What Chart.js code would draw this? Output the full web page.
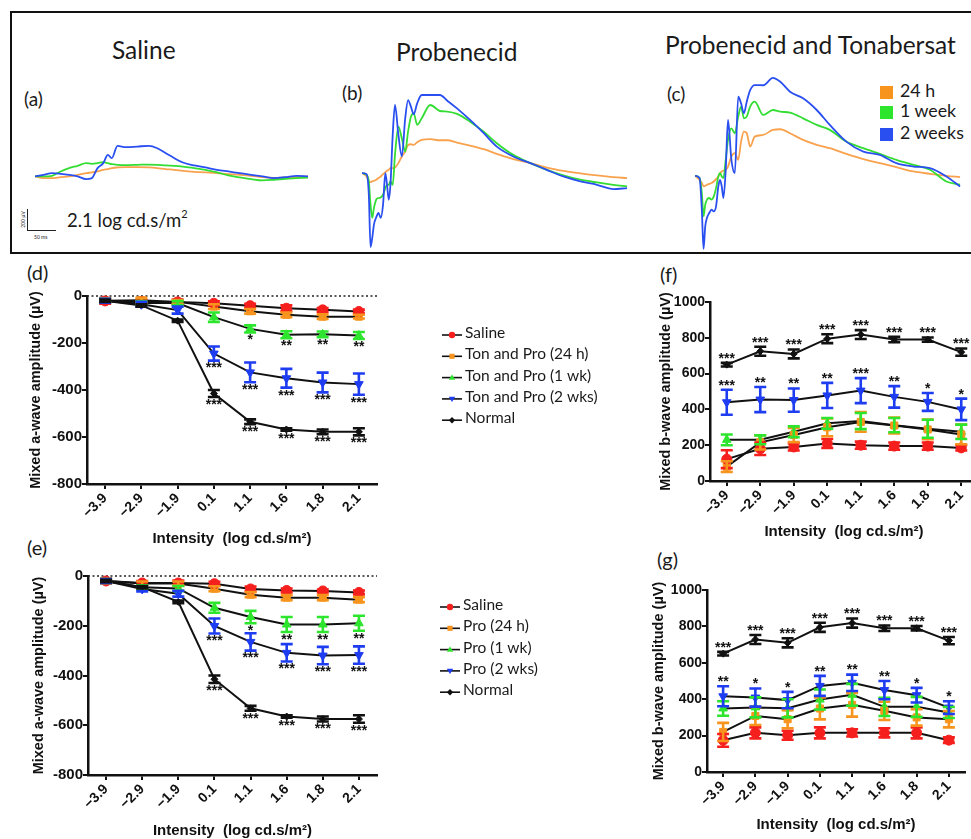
<!DOCTYPE html>
<html lang="en">
<head>
<meta charset="UTF-8">
<title>ERG responses</title>
<script src="https://cdn.jsdelivr.net/npm/chart.js@4.4.1/dist/chart.umd.min.js"></script>
<style>
    body { margin: 0; width: 971px; height: 839px; overflow: hidden; background: #fff; position: relative; font-family: Lato, "Open Sans", sans-serif; color: #1a1a1a; }
    .txt { position: absolute; white-space: nowrap; line-height: 1; }
    .title { font-size: 24.5px; }
    .letter { font-size: 19px; }
    .lg { font-size: 17.8px; }
    .sq { position: absolute; width: 13px; height: 13px; }
    .frame { position: absolute; left: 10px; top: 11px; width: 990px; height: 239px; border: 2px solid #111; }
    .plot { position: absolute; }
    sup { font-size: 11px; position: relative; top: -2px; }
</style>
</head>
<body>
<div class="frame"></div>
<div class="txt title" style="left:112px;top:38px">Saline</div>
<div class="txt title" style="left:396px;top:40px">Probenecid</div>
<div class="txt title" style="left:665px;top:33px">Probenecid and Tonabersat</div>
<div class="txt letter" style="left:24px;top:89px">(a)</div>
<div class="txt letter" style="left:342px;top:83px">(b)</div>
<div class="txt letter" style="left:667px;top:84px">(c)</div>

<div class="sq" style="left:880px;top:86px;background:#F7941D"></div>
<div class="txt lg" style="left:900px;top:82px">24 h</div>
<div class="sq" style="left:880px;top:106px;background:#2EE52E"></div>
<div class="txt lg" style="left:900px;top:102px">1 week</div>
<div class="sq" style="left:880px;top:128px;background:#2A4FF0"></div>
<div class="txt lg" style="left:900px;top:124px">2 weeks</div>

<div style="position:absolute;left:27px;top:209px;width:28px;height:21px;border-left:1.5px solid #222;border-bottom:1.5px solid #222"></div>
<div class="txt" style="left:15px;top:217px;font-size:5px;transform:rotate(-90deg)">200 µV</div>
<div class="txt" style="left:34px;top:235px;font-size:5px">50 ms</div>
<div class="txt" style="left:67px;top:210px;font-size:18.5px">2.1 log cd.s/m<sup>2</sup></div>

<div class="plot" style="left:35px;top:60px;width:273px;height:200px"><canvas id="ergA"></canvas></div>
<div class="plot" style="left:362px;top:57px;width:273px;height:200px"><canvas id="ergB"></canvas></div>
<div class="plot" style="left:695px;top:60px;width:273px;height:200px"><canvas id="ergC"></canvas></div>

<div class="txt letter" style="left:27px;top:262px;font-size:20px">(d)</div>
<div class="txt letter" style="left:27px;top:537px;font-size:20px">(e)</div>
<div class="txt letter" style="left:660px;top:264px;font-size:20px">(f)</div>
<div class="txt letter" style="left:657px;top:549px;font-size:20px">(g)</div>

<div class="plot" style="left:0;top:260px;width:640px;height:288px"><canvas id="chartD"></canvas></div>
<div class="plot" style="left:0;top:560px;width:640px;height:280px"><canvas id="chartE"></canvas></div>
<div class="plot" style="left:640px;top:260px;width:345px;height:281px"><canvas id="chartF"></canvas></div>
<div class="plot" style="left:640px;top:550px;width:345px;height:284px"><canvas id="chartG"></canvas></div>

<script>
    // ERG traces at 2.1 log cd.s/m2, time in ms, amplitude in µV
    const ergTimeA = [0, 15, 30, 45, 60, 75, 90, 100, 110, 120, 128, 135, 145, 160, 180, 200, 215, 230, 245, 260, 280, 300, 320, 340, 360, 380, 400, 420, 440, 460, 480]
    const salineBlue = [-6, 9, 25, 19, 9, -6, -32, -22, 73, 120, 199, 167, 284, 272, 278, 284, 262, 215, 167, 126, 98, 79, 57, 41, 25, 9, -6, -22, -13, 0, -6]
    const salineGreen = [-6, -6, 0, 41, 73, 95, 120, 114, 120, 129, 120, 110, 104, 101, 104, 107, 104, 98, 95, 88, 73, 57, 32, 3, -16, -32, -44, -38, -28, -22, -16]
    const salineOrange = [-6, -22, -22, -13, -6, 9, 25, 32, 41, 57, 63, 73, 79, 82, 82, 79, 73, 63, 57, 47, 38, 32, 25, 16, 9, 0, -13, -19, -16, -13, -6]

    const ergTimeBC = [0, 8, 12, 15, 18, 21, 25, 29, 33, 37, 41, 44, 47, 50, 54, 58, 64, 70, 76, 81, 86, 91, 97, 105, 120, 137, 150, 167, 190, 214, 237, 266, 296, 325, 354, 384, 413, 442, 466]
    const proBlue = [-3, -13, -208, -705, -619, -492, -423, -382, -429, -303, -3, -114, -256, -114, 360, 644, 360, 155, 518, 691, 628, 556, 660, 739, 739, 739, 685, 612, 502, 376, 249, 155, 92, 28, -35, -82, -114, -155, -145]
    const proGreen = [-3, -19, -82, -303, -429, -335, -256, -240, -234, -208, -145, -114, -114, -82, -114, 170, 439, 328, 202, 391, 533, 565, 455, 518, 644, 587, 581, 559, 486, 391, 281, 170, 92, 28, -25, -66, -92, -114, -129]
    const proOrange = [-3, -35, -82, -88, -82, -76, -66, -50, -35, -13, 6, 19, 28, 44, 44, 50, 92, 155, 202, 265, 271, 265, 290, 312, 319, 309, 309, 287, 259, 224, 180, 129, 92, 50, 19, -6, -25, -41, -50]
    const tonBlue = [0, -22, -322, -695, -480, -401, -354, -322, -338, -290, -101, -38, -101, -211, 57, 530, 152, 25, 751, 688, 593, 704, 814, 862, 860, 930, 893, 799, 736, 625, 483, 325, 230, 199, 120, 88, 73, -6, -101]
    const tonGreen = [0, -22, -164, -385, -275, -227, -211, -227, -196, -117, -6, 25, -6, -22, 152, 341, 451, 404, 562, 657, 546, 562, 657, 704, 578, 625, 609, 600, 546, 483, 436, 325, 262, 208, 152, 104, 57, -54, -85]
    const tonOrange = [0, -38, -69, -101, -95, -85, -76, -69, -54, -32, -6, 25, 41, 50, 57, 88, 183, 215, 152, 325, 420, 404, 278, 372, 388, 436, 442, 404, 341, 294, 262, 208, 158, 120, 82, 41, 19, 0, -13]

    // intensity-response curves (mean and error, µV)
    const intensityLabels = ['−3.9', '−2.9', '−1.9', '0.1', '1.1', '1.6', '1.8', '2.1']

    const dSaline = [-21, -24, -25, -31, -41, -52, -59, -66]
    const dSalineErr = [12, 8, 10, 8, 8, 12, 8, 8]
    const dTon24 = [-20, -18, -25, -45, -65, -80, -88, -88]
    const dTon24Err = [8, 10, 8, 10, 10, 10, 10, 8]
    const dTon1wk = [-20, -30, -30, -90, -140, -165, -163, -168]
    const dTon1wkErr = [8, 8, 8, 20, 15, 15, 12, 15]
    const dTon2wk = [-20, -35, -60, -245, -325, -350, -368, -375]
    const dTon2wkErr = [8, 10, 15, 30, 42, 40, 42, 45]
    const dNormal = [-20, -40, -105, -415, -535, -568, -578, -578]
    const dNormalErr = [5, 5, 5, 15, 10, 5, 10, 15]

    const eSaline = [-20, -28, -28, -31, -52, -58, -60, -66]
    const eSalineErr = [10, 8, 10, 8, 10, 8, 6, 8]
    const ePro24 = [-20, -30, -30, -51, -75, -87, -87, -95]
    const ePro24Err = [8, 8, 8, 10, 10, 10, 10, 10]
    const ePro1wk = [-20, -45, -50, -128, -165, -195, -195, -190]
    const ePro1wkErr = [8, 8, 10, 20, 25, 30, 30, 30]
    const ePro2wk = [-20, -52, -71, -201, -265, -309, -320, -318]
    const ePro2wkErr = [8, 10, 12, 30, 35, 35, 35, 35]
    const eNormal = [-20, -45, -104, -415, -532, -565, -575, -575]
    const eNormalErr = [5, 5, 5, 15, 10, 5, 10, 15]

    const fNormal = [650, 725, 710, 795, 818, 790, 790, 720]
    const fNormalErr = [10, 25, 25, 25, 25, 15, 12, 20]
    const fTon2wk = [440, 455, 452, 478, 505, 470, 442, 400]
    const fTon2wkErr = [70, 70, 65, 70, 70, 60, 50, 60]
    const fTon1wk = [230, 230, 275, 322, 335, 312, 292, 275]
    const fTon1wkErr = [30, 25, 30, 30, 45, 40, 50, 40]
    const fTon24 = [80, 216, 257, 300, 330, 310, 288, 260]
    const fTon24Err = [30, 40, 40, 50, 55, 45, 55, 55]
    const fSaline = [122, 180, 190, 210, 200, 195, 195, 185]
    const fSalineErr = [50, 35, 20, 25, 20, 20, 20, 15]

    const gNormal = [650, 728, 710, 795, 818, 790, 790, 722]
    const gNormalErr = [10, 25, 25, 25, 25, 15, 12, 20]
    const gPro2wk = [416, 409, 395, 473, 490, 450, 422, 354]
    const gPro2wkErr = [55, 50, 45, 55, 45, 50, 40, 35]
    const gPro1wk = [349, 355, 350, 398, 424, 358, 358, 327]
    const gPro1wkErr = [40, 55, 50, 55, 60, 50, 55, 30]
    const gPro24 = [220, 308, 290, 349, 369, 336, 300, 290]
    const gPro24Err = [50, 50, 50, 60, 65, 50, 45, 45]
    const gSaline = [174, 215, 202, 215, 215, 215, 215, 175]
    const gSalineErr = [35, 30, 25, 30, 20, 25, 30, 15]

    // significance marks
    const starsAwave1wk = ['', '', '', '', '*', '**', '**', '**']
    const starsAwave2wk = ['', '', '', '***', '***', '***', '***', '***']
    const starsAwaveNormal = ['', '', '', '***', '***', '***', '***', '***']
    const starsNormalB = ['***', '***', '***', '***', '***', '***', '***', '***']
    const starsF2wk = ['***', '**', '**', '**', '***', '**', '*', '*']
    const starsG2wk = ['**', '*', '*', '**', '**', '**', '*', '*']

    const RED = '#F5201E', ORANGE = '#F7941D', GREEN = '#2EE52E', BLUE = '#1E3CF0', BLACK = '#111'

    Chart.defaults.font.family = '"Liberation Sans", Arial, sans-serif'
    Chart.defaults.color = BLACK

    function ergChart(id, times, traces) {
        new Chart(document.getElementById(id), {
            type: 'scatter',
            data: {
                datasets: traces.map(tr => ({
                    data: times.map((t, i) => ({x: t, y: tr.values[i]})),
                    showLine: true,
                    borderColor: tr.color,
                    borderWidth: 1.8,
                    pointRadius: 0,
                    cubicInterpolationMode: 'monotone'
                }))
            },
            options: {
                responsive: true, maintainAspectRatio: false, animation: false, events: [],
                layout: {padding: 0},
                plugins: {legend: {display: false}, tooltip: {enabled: false}},
                scales: {
                    x: {type: 'linear', display: false, min: 0, max: 480},
                    y: {display: false, min: -800, max: 1100}
                }
            }
        })
    }

    ergChart('ergA', ergTimeA, [
        {values: salineBlue, color: '#2A4FF0'},
        {values: salineGreen, color: '#33DD33'},
        {values: salineOrange, color: '#F9A24E'}
    ])
    ergChart('ergB', ergTimeBC, [
        {values: proBlue, color: '#2A4FF0'},
        {values: proGreen, color: '#33DD33'},
        {values: proOrange, color: '#F9A24E'}
    ])
    ergChart('ergC', ergTimeBC, [
        {values: tonBlue, color: '#2A4FF0'},
        {values: tonGreen, color: '#33DD33'},
        {values: tonOrange, color: '#F9A24E'}
    ])

    function drawMarker(ctx, style, rot, x, y, r, color) {
        ctx.save()
        ctx.fillStyle = color
        ctx.translate(x, y)
        ctx.rotate(rot * Math.PI / 180)
        ctx.beginPath()
        if (style === 'circle') ctx.arc(0, 0, r, 0, 2 * Math.PI)
        else if (style === 'rect') ctx.rect(-r * 0.8, -r * 0.8, r * 1.6, r * 1.6)
        else if (style === 'triangle') {
            ctx.moveTo(0, -r); ctx.lineTo(r, r * 0.7); ctx.lineTo(-r, r * 0.7); ctx.closePath()
        } else {
            ctx.moveTo(0, -r); ctx.lineTo(r, 0); ctx.lineTo(0, r); ctx.lineTo(-r, 0); ctx.closePath()
        }
        ctx.fill()
        ctx.restore()
    }

    const zeroLine = {
        id: 'zeroLine',
        beforeDatasetsDraw(chart, args, opts) {
            if (!opts.show) return
            const {ctx, chartArea} = chart
            const y = chart.scales.y.getPixelForValue(0)
            ctx.save()
            ctx.setLineDash([2, 2.5])
            ctx.strokeStyle = '#222'
            ctx.lineWidth = 1.5
            ctx.beginPath()
            ctx.moveTo(chartArea.left, y)
            ctx.lineTo(chartArea.right, y)
            ctx.stroke()
            ctx.restore()
        }
    }

    const errorBars = {
        id: 'errorBars',
        afterDatasetsDraw(chart) {
            const ctx = chart.ctx, ys = chart.scales.y
            chart.data.datasets.forEach((ds, i) => {
                const meta = chart.getDatasetMeta(i)
                ctx.save()
                ctx.strokeStyle = ds.errColor
                ctx.lineWidth = 2.6
                meta.data.forEach((pt, j) => {
                    const top = ys.getPixelForValue(ds.data[j] + ds.err[j])
                    const bot = ys.getPixelForValue(ds.data[j] - ds.err[j])
                    ctx.beginPath()
                    ctx.moveTo(pt.x, top); ctx.lineTo(pt.x, bot)
                    ctx.moveTo(pt.x - 6, top); ctx.lineTo(pt.x + 6, top)
                    ctx.moveTo(pt.x - 6, bot); ctx.lineTo(pt.x + 6, bot)
                    ctx.stroke()
                })
                ctx.restore()
                if (!ds.stars) return
                ctx.save()
                ctx.fillStyle = BLACK
                ctx.font = 'bold 14px "Liberation Sans", Arial'
                ctx.textAlign = 'center'
                ctx.textBaseline = 'top'
                meta.data.forEach((pt, j) => {
                    if (!ds.stars[j]) return
                    let y
                    if (ds.starSide === 'below') y = ys.getPixelForValue(ds.data[j] - ds.err[j]) + 1
                    else y = ys.getPixelForValue(ds.data[j] + ds.err[j]) - 11
                    ctx.fillText(ds.stars[j], pt.x, y)
                })
                ctx.restore()
            })
        }
    }

    const sideLegend = {
        id: 'sideLegend',
        afterDraw(chart, args, opts) {
            if (!opts.show) return
            const {ctx, chartArea} = chart
            const x0 = chartArea.right + opts.dx
            chart.data.datasets.forEach((ds, i) => {
                const y = chartArea.top + opts.dy + i * opts.gap
                ctx.save()
                ctx.strokeStyle = BLACK
                ctx.lineWidth = 1.6
                ctx.beginPath()
                ctx.moveTo(x0, y + 2); ctx.lineTo(x0 + 20, y + 2)
                ctx.stroke()
                drawMarker(ctx, ds.pointStyle, ds.pointRotation, x0 + 10, y + 2, 3.2, ds.errColor)
                ctx.fillStyle = '#1a1a1a'
                ctx.font = '15.5px Lato, "Open Sans", sans-serif'
                ctx.textBaseline = 'middle'
                ctx.fillText(ds.label, x0 + 23, y)
                ctx.restore()
            })
        }
    }

    function series(label, data, err, color, style, rot, stars, side) {
        return {
            label, data, err, errColor: color, stars, starSide: side,
            borderColor: BLACK, borderWidth: 2, tension: 0,
            pointStyle: style, pointRotation: rot,
            pointRadius: style === 'rectRot' ? 3.5 : 5,
            pointBackgroundColor: color, pointBorderColor: color, pointBorderWidth: 1,
            clip: false
        }
    }

    function responseChart(id, cfg) {
        new Chart(document.getElementById(id), {
            type: 'line',
            data: {labels: intensityLabels, datasets: cfg.datasets},
            options: {
                responsive: true, maintainAspectRatio: false, animation: false, events: [],
                layout: {padding: cfg.pad},
                plugins: {
                    legend: {display: false}, tooltip: {enabled: false},
                    zeroLine: {show: cfg.zero},
                    sideLegend: cfg.legend || {show: false}
                },
                scales: {
                    x: {
                        offset: true,
                        grid: {drawOnChartArea: false, color: BLACK, tickLength: 5, lineWidth: 2},
                        border: {color: BLACK, width: 2.5},
                        ticks: {font: {size: 14, weight: 'bold'}, minRotation: 45, maxRotation: 45, padding: 1},
                        title: {display: true, text: 'Intensity  (log cd.s/m²)', font: {size: 15, weight: 'bold'}, padding: 0},
                        afterFit: s => { s.height = cfg.xh }
                    },
                    y: {
                        min: cfg.min, max: cfg.max,
                        ticks: {stepSize: 200, padding: 0, font: {size: cfg.ytick, weight: 'bold'}, callback: v => String(v)},
                        grid: {drawOnChartArea: false, color: BLACK, tickLength: 5, lineWidth: 2},
                        border: {color: BLACK, width: 2.5},
                        title: {display: true, text: cfg.ytitle, font: {size: 14.5, weight: 'bold'}, padding: 0},
                        afterFit: s => { s.width = cfg.yw }
                    }
                }
            },
            plugins: [zeroLine, errorBars, sideLegend]
        })
    }

    responseChart('chartD', {
        min: -800, max: 0, zero: true, ytitle: 'Mixed a-wave amplitude (µV)', ytick: 15,
        pad: {left: 27, top: 36, right: 263, bottom: 0}, yw: 60, xh: 64,
        legend: {show: true, dx: 65, dy: 37, gap: 21.3},
        datasets: [
            series('Saline', dSaline, dSalineErr, RED, 'circle', 0),
            series('Ton and Pro (24 h)', dTon24, dTon24Err, ORANGE, 'rect', 0),
            series('Ton and Pro (1 wk)', dTon1wk, dTon1wkErr, GREEN, 'triangle', 0, starsAwave1wk, 'below'),
            series('Ton and Pro (2 wks)', dTon2wk, dTon2wkErr, BLUE, 'triangle', 180, starsAwave2wk, 'below'),
            series('Normal', dNormal, dNormalErr, BLACK, 'rectRot', 0, starsAwaveNormal, 'below')
        ]
    })

    responseChart('chartE', {
        min: -800, max: 0, zero: true, ytitle: 'Mixed a-wave amplitude (µV)', ytick: 15,
        pad: {left: 30, top: 16, right: 263, bottom: 0}, yw: 58, xh: 65,
        legend: {show: true, dx: 63, dy: 29, gap: 21.3},
        datasets: [
            series('Saline', eSaline, eSalineErr, RED, 'circle', 0),
            series('Pro (24 h)', ePro24, ePro24Err, ORANGE, 'rect', 0),
            series('Pro (1 wk)', ePro1wk, ePro1wkErr, GREEN, 'triangle', 0, starsAwave1wk, 'below'),
            series('Pro (2 wks)', ePro2wk, ePro2wkErr, BLUE, 'triangle', 180, starsAwave2wk, 'below'),
            series('Normal', eNormal, eNormalErr, BLACK, 'rectRot', 0, starsAwaveNormal, 'below')
        ]
    })

    responseChart('chartF', {
        min: 0, max: 1000, zero: false, ytitle: 'Mixed b-wave amplitude (µV)', ytick: 14,
        pad: {left: 17, top: 42, right: 7, bottom: 0}, yw: 53, xh: 60,
        datasets: [
            series('Saline', fSaline, fSalineErr, RED, 'circle', 0),
            series('Ton and Pro (24 h)', fTon24, fTon24Err, ORANGE, 'rect', 0),
            series('Ton and Pro (1 wk)', fTon1wk, fTon1wkErr, GREEN, 'triangle', 0),
            series('Ton and Pro (2 wks)', fTon2wk, fTon2wkErr, BLUE, 'triangle', 180, starsF2wk, 'above'),
            series('Normal', fNormal, fNormalErr, BLACK, 'rectRot', 0, starsNormalB, 'above')
        ]
    })

    responseChart('chartG', {
        min: 0, max: 1000, zero: false, ytitle: 'Mixed b-wave amplitude (µV)', ytick: 14,
        pad: {left: 10, top: 40, right: 20, bottom: 0}, yw: 57, xh: 62,
        datasets: [
            series('Saline', gSaline, gSalineErr, RED, 'circle', 0),
            series('Pro (24 h)', gPro24, gPro24Err, ORANGE, 'rect', 0),
            series('Pro (1 wk)', gPro1wk, gPro1wkErr, GREEN, 'triangle', 0),
            series('Pro (2 wks)', gPro2wk, gPro2wkErr, BLUE, 'triangle', 180, starsG2wk, 'above'),
            series('Normal', gNormal, gNormalErr, BLACK, 'rectRot', 0, starsNormalB, 'above')
        ]
    })
</script>
</body>
</html>
